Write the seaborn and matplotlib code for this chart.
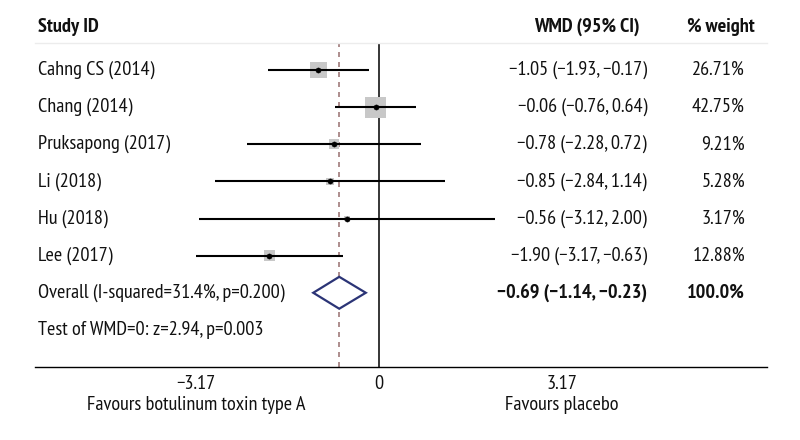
import matplotlib
matplotlib.use("Agg")
import matplotlib.pyplot as plt
import matplotlib.transforms as mtransforms
import numpy as np
import pandas as pd
import seaborn as sns

studies = ["Cahng CS (2014)", "Chang (2014)", "Pruksapong (2017)", "Li (2018)",
           "Hu (2018)", "Lee (2017)"]
wmd = [-1.05, -0.06, -0.78, -0.85, -0.56, -1.90]
ci_low = [-1.93, -0.76, -2.28, -2.84, -3.12, -3.17]
ci_high = [-0.17, 0.64, 0.72, 1.14, 2.00, -0.63]
weights = [26.71, 42.75, 9.21, 5.28, 3.17, 12.88]

overall_label = "Overall (I-squared=31.4%, p=0.200)"
overall_wmd = -0.69
overall_low = -1.14
overall_high = -0.23
overall_weight = "100.0%"
test_label = "Test of WMD=0: z=2.94, p=0.003"

tick_values = [-3.17, 0, 3.17]
tick_labels = ["\u22123.17", "0", "3.17"]
left_note = "Favours botulinum toxin type A"
right_note = "Favours placebo"

def fmt(v):
    s = f"{abs(v):.2f}"
    return ("\u2212" + s) if v < 0 else s

df = pd.DataFrame({"study": studies, "wmd": wmd, "lo": ci_low, "hi": ci_high, "w": weights})
df["row"] = np.arange(len(df))

sns.set_style("white")
plt.rcParams["font.family"] = ["PT Sans Narrow", "IBM Plex Sans Condensed", "DejaVu Sans"]
FS = 14.6
TXT = "#111111"

fig = plt.figure(figsize=(8, 4.4), dpi=100)
ax = fig.add_axes([35 / 800, 1 - 367 / 440, 732 / 800, (367 - 43) / 440])
ax.set_xlim(-5.96, 6.72)
ax.set_ylim(8, -0.73)

# vertical reference lines
ax.axvline(0, color="black", lw=1.1, zorder=1)
ax.axvline(overall_wmd, color="#a07a7a", lw=1.2, ls=(0, (3, 3)), zorder=1)

# weight squares
side_px = 3.25 * np.sqrt(df["w"])
sizes = (side_px * 0.72) ** 2
ax.scatter(df["wmd"], df["row"], s=sizes, marker="s", color="#c8c8c8", lw=0, zorder=2)
# CIs
ax.hlines(df["row"], df["lo"], df["hi"], color="black", lw=1.5, zorder=3)
# point estimates
sns.scatterplot(data=df, x="wmd", y="row", color="black", s=14, ax=ax, zorder=4,
                edgecolor="black", legend=False)

# overall diamond
orow = len(df)
dh = 0.43
ax.fill([overall_low, overall_wmd, overall_high, overall_wmd],
        [orow, orow - dh, orow, orow + dh],
        facecolor="white", edgecolor="#2b3476", lw=1.6, zorder=3)

# spines / ticks
for s in ["left", "right"]:
    ax.spines[s].set_visible(False)
ax.spines["top"].set_color("#ececec")
ax.spines["top"].set_linewidth(1.0)
ax.spines["bottom"].set_color("black")
ax.spines["bottom"].set_linewidth(1.0)
ax.set_xticks(tick_values)
ax.set_xticklabels(tick_labels, fontsize=FS, color=TXT)
ax.tick_params(axis="x", direction="out", length=5, width=1, color="black", pad=1)
ax.set_yticks([])
ax.set_xlabel("")
ax.set_ylabel("")

trans = mtransforms.blended_transform_factory(fig.transFigure, ax.transData)
x_lab = 38 / 800
x_wmd = 647 / 800
x_wt = 745 / 800

# header
ax.text(x_lab, -1.16, "Study ID", transform=trans, ha="left", va="center",
        fontsize=FS, fontweight="bold", clip_on=False, color=TXT)
ax.text(640 / 800, -1.16, "WMD (95% CI)", transform=trans, ha="right", va="center",
        fontsize=FS, fontweight="bold", clip_on=False, color=TXT)
ax.text(755 / 800, -1.16, "% weight", transform=trans, ha="right", va="center",
        fontsize=FS, fontweight="bold", clip_on=False, color=TXT)

for _, r in df.iterrows():
    ax.text(x_lab, r["row"], r["study"], transform=trans, ha="left", va="center",
            fontsize=FS, clip_on=False, color=TXT)
    ax.text(x_wmd, r["row"], f"{fmt(r['wmd'])} ({fmt(r['lo'])}, {fmt(r['hi'])})",
            transform=trans, ha="right", va="center", fontsize=FS, clip_on=False, color=TXT)
    ax.text(x_wt, r["row"], f"{r['w']:.2f}%", transform=trans, ha="right",
            va="center", fontsize=FS, clip_on=False, color=TXT)

ax.text(x_lab, orow, overall_label, transform=trans, ha="left", va="center",
        fontsize=FS, clip_on=False, color=TXT)
ax.text(x_wmd, orow, f"{fmt(overall_wmd)} ({fmt(overall_low)}, {fmt(overall_high)})",
        transform=trans, ha="right", va="center", fontsize=FS, fontweight="bold",
        clip_on=False, color=TXT)
ax.text(x_wt, orow, overall_weight, transform=trans, ha="right", va="center",
        fontsize=FS, fontweight="bold", clip_on=False, color=TXT)
ax.text(x_lab, orow + 1, test_label, transform=trans, ha="left", va="center",
        fontsize=FS, clip_on=False, color=TXT)

# favours labels
trans2 = mtransforms.blended_transform_factory(ax.transData, fig.transFigure)
ax.text(tick_values[0], 1 - 405 / 440, left_note, transform=trans2, ha="center",
        va="center", fontsize=FS, clip_on=False, color=TXT)
ax.text(tick_values[2], 1 - 405 / 440, right_note, transform=trans2, ha="center",
        va="center", fontsize=FS, clip_on=False, color=TXT)

fig.savefig("out.png", dpi=100)
